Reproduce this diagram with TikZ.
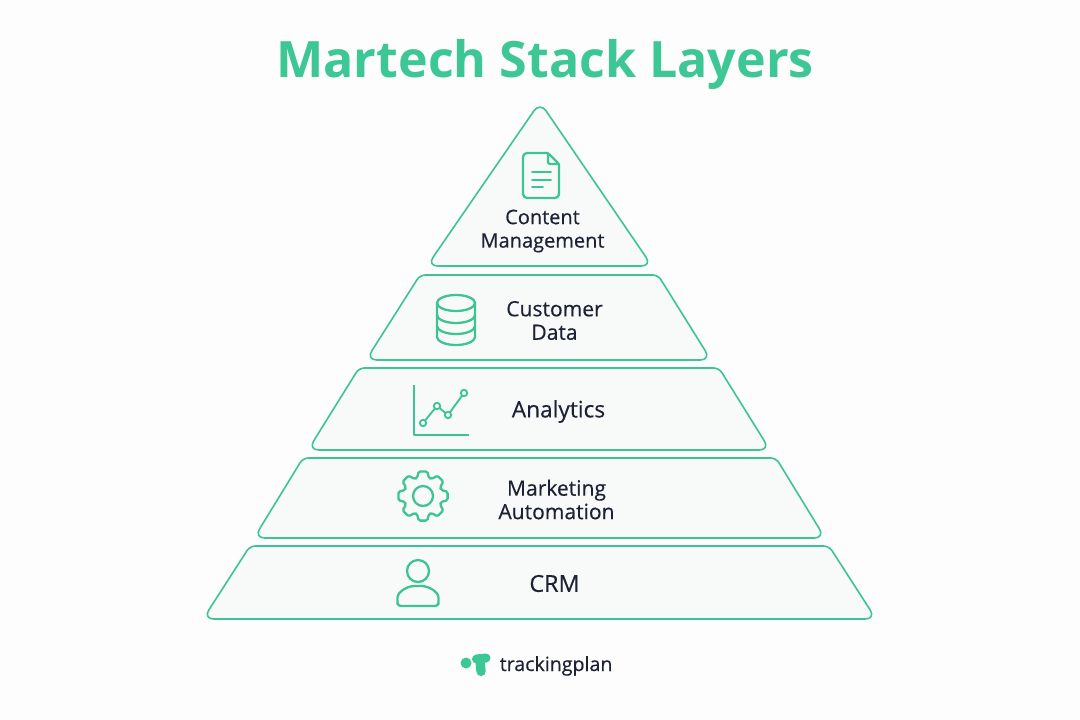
\documentclass[tikz,border=0pt]{standalone}
\usepackage{fontspec}
\setmainfont{Open Sans}
\newfontfamily\labelfont[FakeBold=0.4]{Open Sans}
\usetikzlibrary{calc}
\definecolor{trackgreen}{HTML}{3DC795}
\definecolor{edgegreen}{HTML}{3CC493}
\definecolor{layerfill}{HTML}{F8F9F9}
\definecolor{pagefill}{HTML}{FDFDFD}
\definecolor{inkdark}{HTML}{1B2233}
\tikzset{
    layer/.style={draw=edgegreen, fill=layerfill, line width=1.2pt, rounded corners=4pt, line join=round},
    icon/.style={draw=edgegreen, line width=1.7pt, line join=round, line cap=round},
    layerlabel/.style={font=\labelfont\fontsize{#1}{17.6}\selectfont, text=inkdark, align=center, inner sep=0pt}
}
\begin{document}
\begin{tikzpicture}[x=0.75pt, y=-0.75pt]
    \useasboundingbox (0,0) rectangle (1080,720);
    \fill [pagefill] (0,0) rectangle (1080,720);
    \node (title) at (545,64) {\fontsize{37.6}{45}\selectfont\bfseries\color{trackgreen}Martech Stack Layers};
    \draw [layer, rounded corners=8pt] (540,102) -- (652,266) -- (427,266) -- cycle;
    \draw [layer] (420,275) -- (658,275) [rounded corners=8pt] -- (711,360) -- (366,360) [rounded corners=4pt] -- cycle;
    \draw [layer] (359,368) -- (719,368) [rounded corners=8pt] -- (770,450) -- (308,450) [rounded corners=4pt] -- cycle;
    \draw [layer] (303,458) -- (776,458) [rounded corners=8pt] -- (825,538) -- (254,538) [rounded corners=4pt] -- cycle;
    \draw [layer] (250,546) -- (829,546) [rounded corners=8pt] -- (876,619) -- (203,619) [rounded corners=4pt] -- cycle;
    \node [layerlabel=15] (content) at (542.5,231) {Content\\Management};
    \node [layerlabel=15.8] (customer) at (554.5,320.5) {Customer\\Data};
    \node [layerlabel=17] (analytics) at (558.5,411.5) {Analytics};
    \node [layerlabel=15.8] (marketing) at (556.5,499.5) {Marketing\\Automation};
    \node [layerlabel=17.5] (crm) at (554.5,583.5) {CRM};
    \draw [icon, rounded corners=3pt] (548,153) -- (523,153) -- (523,198) -- (559,198) -- (559,164);
    \draw [icon, rounded corners=1.5pt] (548,153) -- (559,164) -- (548,164) -- cycle;
    \draw [icon, line width=1.3pt] (532,172) -- (551,172) (532,180) -- (551,180) (532,187) -- (543,187);
    \draw [icon] (437,303) arc (180:-180:19 and 8);
    \draw [icon] (437,303) -- (437,337) arc (180:0:19 and 8) -- (475,303);
    \draw [icon] (437,315) arc (180:0:19 and 8) (437,326) arc (180:0:19 and 8);
    \draw [icon, line width=1.4pt, line cap=butt] (414,385) -- (414,435) -- (469,435);
    \draw [icon, line width=1.4pt] (423,423) coordinate (pa) -- (437,406) coordinate (pb) -- (448,415) coordinate (pc) -- (464,393) coordinate (pd);
    \foreach \p in {pa,pb,pc,pd}
        \draw [icon, line width=1.4pt, fill=layerfill] (\p) circle [radius=3.2];
    \coordinate (gear) at (423,496);
    \draw [icon, rounded corners=1.2pt] ($(gear)+(-18:19)$) \foreach \a in {0,45,...,315} {
        -- ($(gear)+(\a-18:19)$) -- ($(gear)+(\a-10:25)$) -- ($(gear)+(\a+10:25)$) -- ($(gear)+(\a+18:19)$)
    } -- cycle;
    \draw [icon] (gear) circle [radius=10];
    \draw [icon] (418,571) circle [radius=11];
    \draw [icon, rounded corners=2.5pt] (397.5,606) -- (397.5,601) .. controls (397.5,592) and (407,586) .. (418,586) .. controls (429,586) and (438.5,592) .. (438.5,601) -- (438.5,606) -- cycle;
    \fill [trackgreen] (466,663) circle [radius=5.5];
    \draw [trackgreen, line width=6.75pt, line cap=round] (476.5,659) -- (486,658);
    \draw [trackgreen, line width=7pt, line cap=round] (480,660) -- (481,671.5);
    \node [font=\labelfont\fontsize{14.7}{18}\selectfont, text=inkdark, inner sep=0pt, anchor=base west] (brand) at (499.5,671) {trackingplan};
\end{tikzpicture}
\end{document}
